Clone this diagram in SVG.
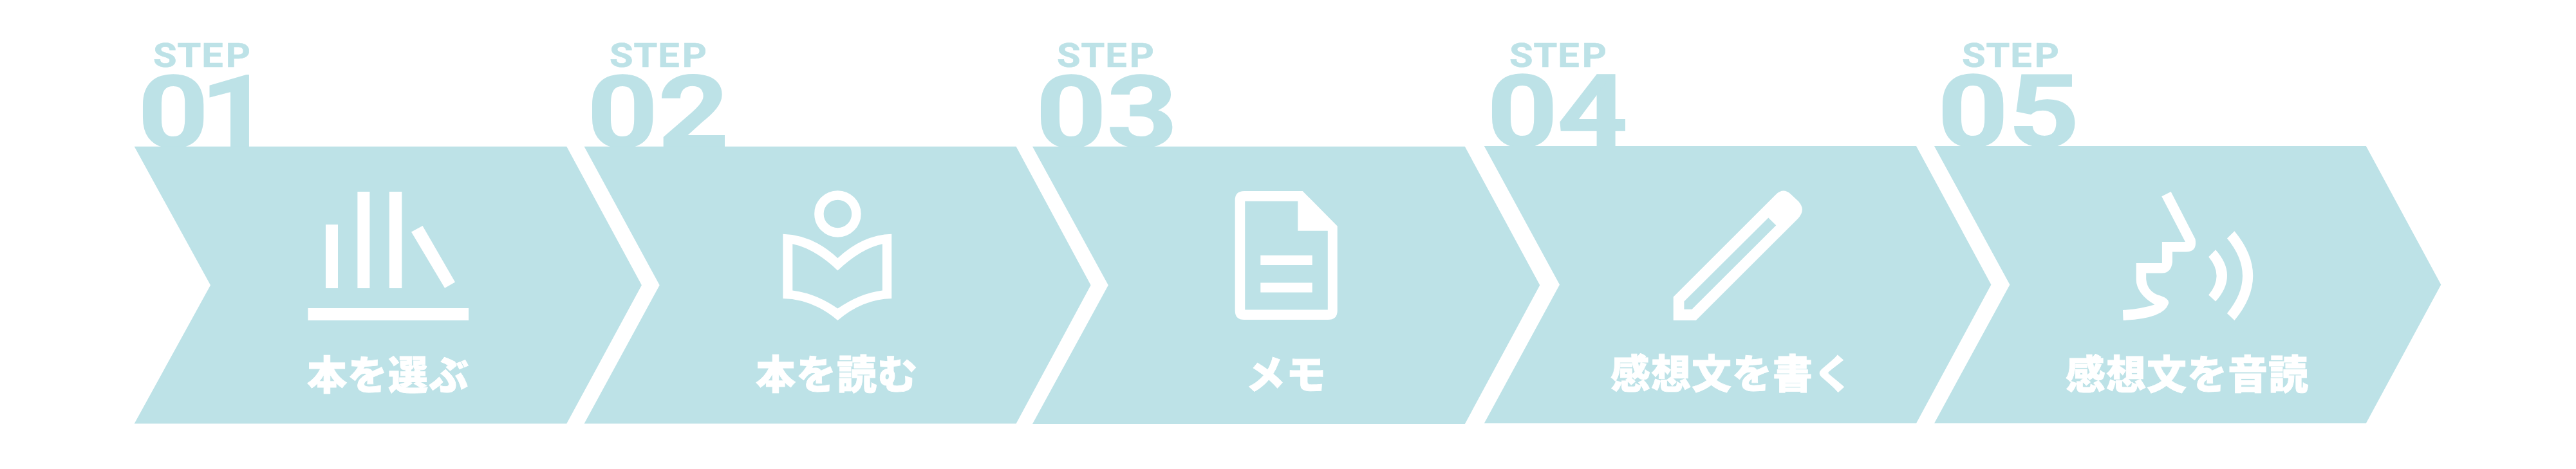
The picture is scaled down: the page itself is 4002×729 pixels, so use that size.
<svg xmlns="http://www.w3.org/2000/svg" width="4002" height="729" viewBox="0 0 4002 729">
<style>
.c{fill:#bde2e7}
.i{fill:#fff}
.s{font-family:"Roboto","Liberation Sans",sans-serif;font-weight:700;font-size:52px;fill:#bde2e7;stroke:#bde2e7;stroke-width:.6}
.n{font-family:"Roboto","Liberation Sans",sans-serif;font-weight:700;font-size:155px;fill:#bde2e7;stroke:#bde2e7;stroke-width:1.5}
.l{font-family:"Noto Sans CJK JP",sans-serif;font-weight:900;font-size:62px;fill:#fff;stroke:#fff;stroke-width:.8;text-anchor:middle;letter-spacing:1px}
</style>
<rect width="4002" height="729" fill="#fff"/>
<g id="step1">
<text class="s" transform="translate(238,104) scale(1.14,1)" x="0 33 66 99">STEP</text>
<text class="n" transform="translate(214,228) scale(1.24,1)" x="0 78">01</text>
<polygon class="c" points="208.7,227.8 880.3,227.8 996.9,443.3 880.3,658.4 208.7,658.4 327,443.3"/>
<rect class="i" x="506" y="349" width="19" height="99"/>
<rect class="i" x="555.4" y="298" width="19" height="150"/>
<rect class="i" x="604.8" y="298" width="19.5" height="150"/>
<polygon class="i" points="639,360.4 656.5,351 707,438.4 691,447.8"/>
<rect class="i" x="478.5" y="479" width="249.5" height="19"/>
<text class="l" x="603" y="606">本を選ぶ</text>
</g>
<g id="step2">
<text class="s" transform="translate(947,104) scale(1.14,1)" x="0 33 66 99">STEP</text>
<text class="n" transform="translate(912,228) scale(1.24,1)" x="0 89">02</text>
<polygon class="c" points="907.6,227.8 1578.6,227.8 1694.6,443.3 1578.6,658.4 907.6,658.4 1024.7,443.3"/>
<circle cx="1301.4" cy="332.4" r="29" fill="none" stroke="#fff" stroke-width="14.5"/>
<path class="i" fill-rule="evenodd" d="M1216.4 363.7Q1263 365 1301.4 401.2Q1340 365 1385.2 363.7V464Q1340 465 1301.4 498Q1263 465 1216.4 464ZM1231.3 379.2V451.4Q1268 456 1301.4 479.6Q1335 456 1370.8 451.4V379.2Q1338 386 1301.4 420.4Q1265 386 1231.3 379.2Z"/>
<text class="l" x="1300" y="605">本を読む</text>
</g>
<g id="step3">
<text class="s" transform="translate(1642,104) scale(1.14,1)" x="0 33 66 99">STEP</text>
<text class="n" transform="translate(1609,228) scale(1.24,1)" x="0 89">03</text>
<polygon class="c" points="1604,227.8 2275.8,227.8 2392.3,443.3 2275.8,659 1604,659 1721.8,443.3"/>
<path class="i" fill-rule="evenodd" d="M1933 297H2023.7L2077.7 351.4V483Q2077.7 497 2063 497H1933Q1918.7 497 1918.7 483V311Q1918.7 297 1933 297ZM1934.2 312.7V481.6H2062.8V358.8H2016.3V312.7Z"/>
<rect class="i" x="1958.3" y="397" width="80.4" height="15"/>
<rect class="i" x="1958.3" y="439.5" width="80.4" height="15"/>
<text class="l" x="1998" y="605">メモ</text>
</g>
<g id="step4">
<text class="s" transform="translate(2345,104) scale(1.14,1)" x="0 33 66 99">STEP</text>
<text class="n" transform="translate(2310,227) scale(1.24,1)" x="0 88">04</text>
<polygon class="c" points="2305.8,227 2977,227 3093.4,442.4 2977,658 2305.8,658 2423,442.4"/>
<path class="i" fill-rule="evenodd" d="M2599.7 461.6L2759.3 302Q2770.8 291 2782.3 302L2793.8 312.7Q2806 325.7 2793.8 339.2L2634.8 498H2599.7ZM2616.4 468.6V480.8H2628.5L2759.3 350.2L2747.3 338.4Z"/>
<text class="l" x="2691" y="604">感想文を書く</text>
</g>
<g id="step5">
<text class="s" transform="translate(3048,104) scale(1.14,1)" x="0 33 66 99">STEP</text>
<text class="n" transform="translate(3010,227) scale(1.24,1)" x="0 89">05</text>
<polygon class="c" points="3005,227 3675.8,227 3792.3,442.4 3675.8,658 3005,658 3122.4,442.4"/>
<path class="i" d="M3372.7 298L3410.5 371.4Q3414 391.4 3396.2 391.4H3375V407.3Q3373 424.5 3358.9 424.5H3334.2V433.9Q3336 454 3356 459.6Q3372 465 3368.6 472.7Q3361 495 3298.6 498L3298 482Q3327 480 3347.4 473.5Q3318.7 456.3 3318.7 433.9V409H3358.9V375.9H3395L3358.3 305.3Z"/>
<path class="i" d="M3442.1 388.2Q3478 428.4 3442.1 468.6L3431.2 458.4Q3456 428.8 3431.2 399.2Z"/>
<path class="i" d="M3471.4 359.2Q3529 428.6 3471.4 498L3459.9 487Q3508 428.8 3459.9 370.6Z"/>
<text class="l" x="3398" y="605">感想文を音読</text>
</g>
</svg>
